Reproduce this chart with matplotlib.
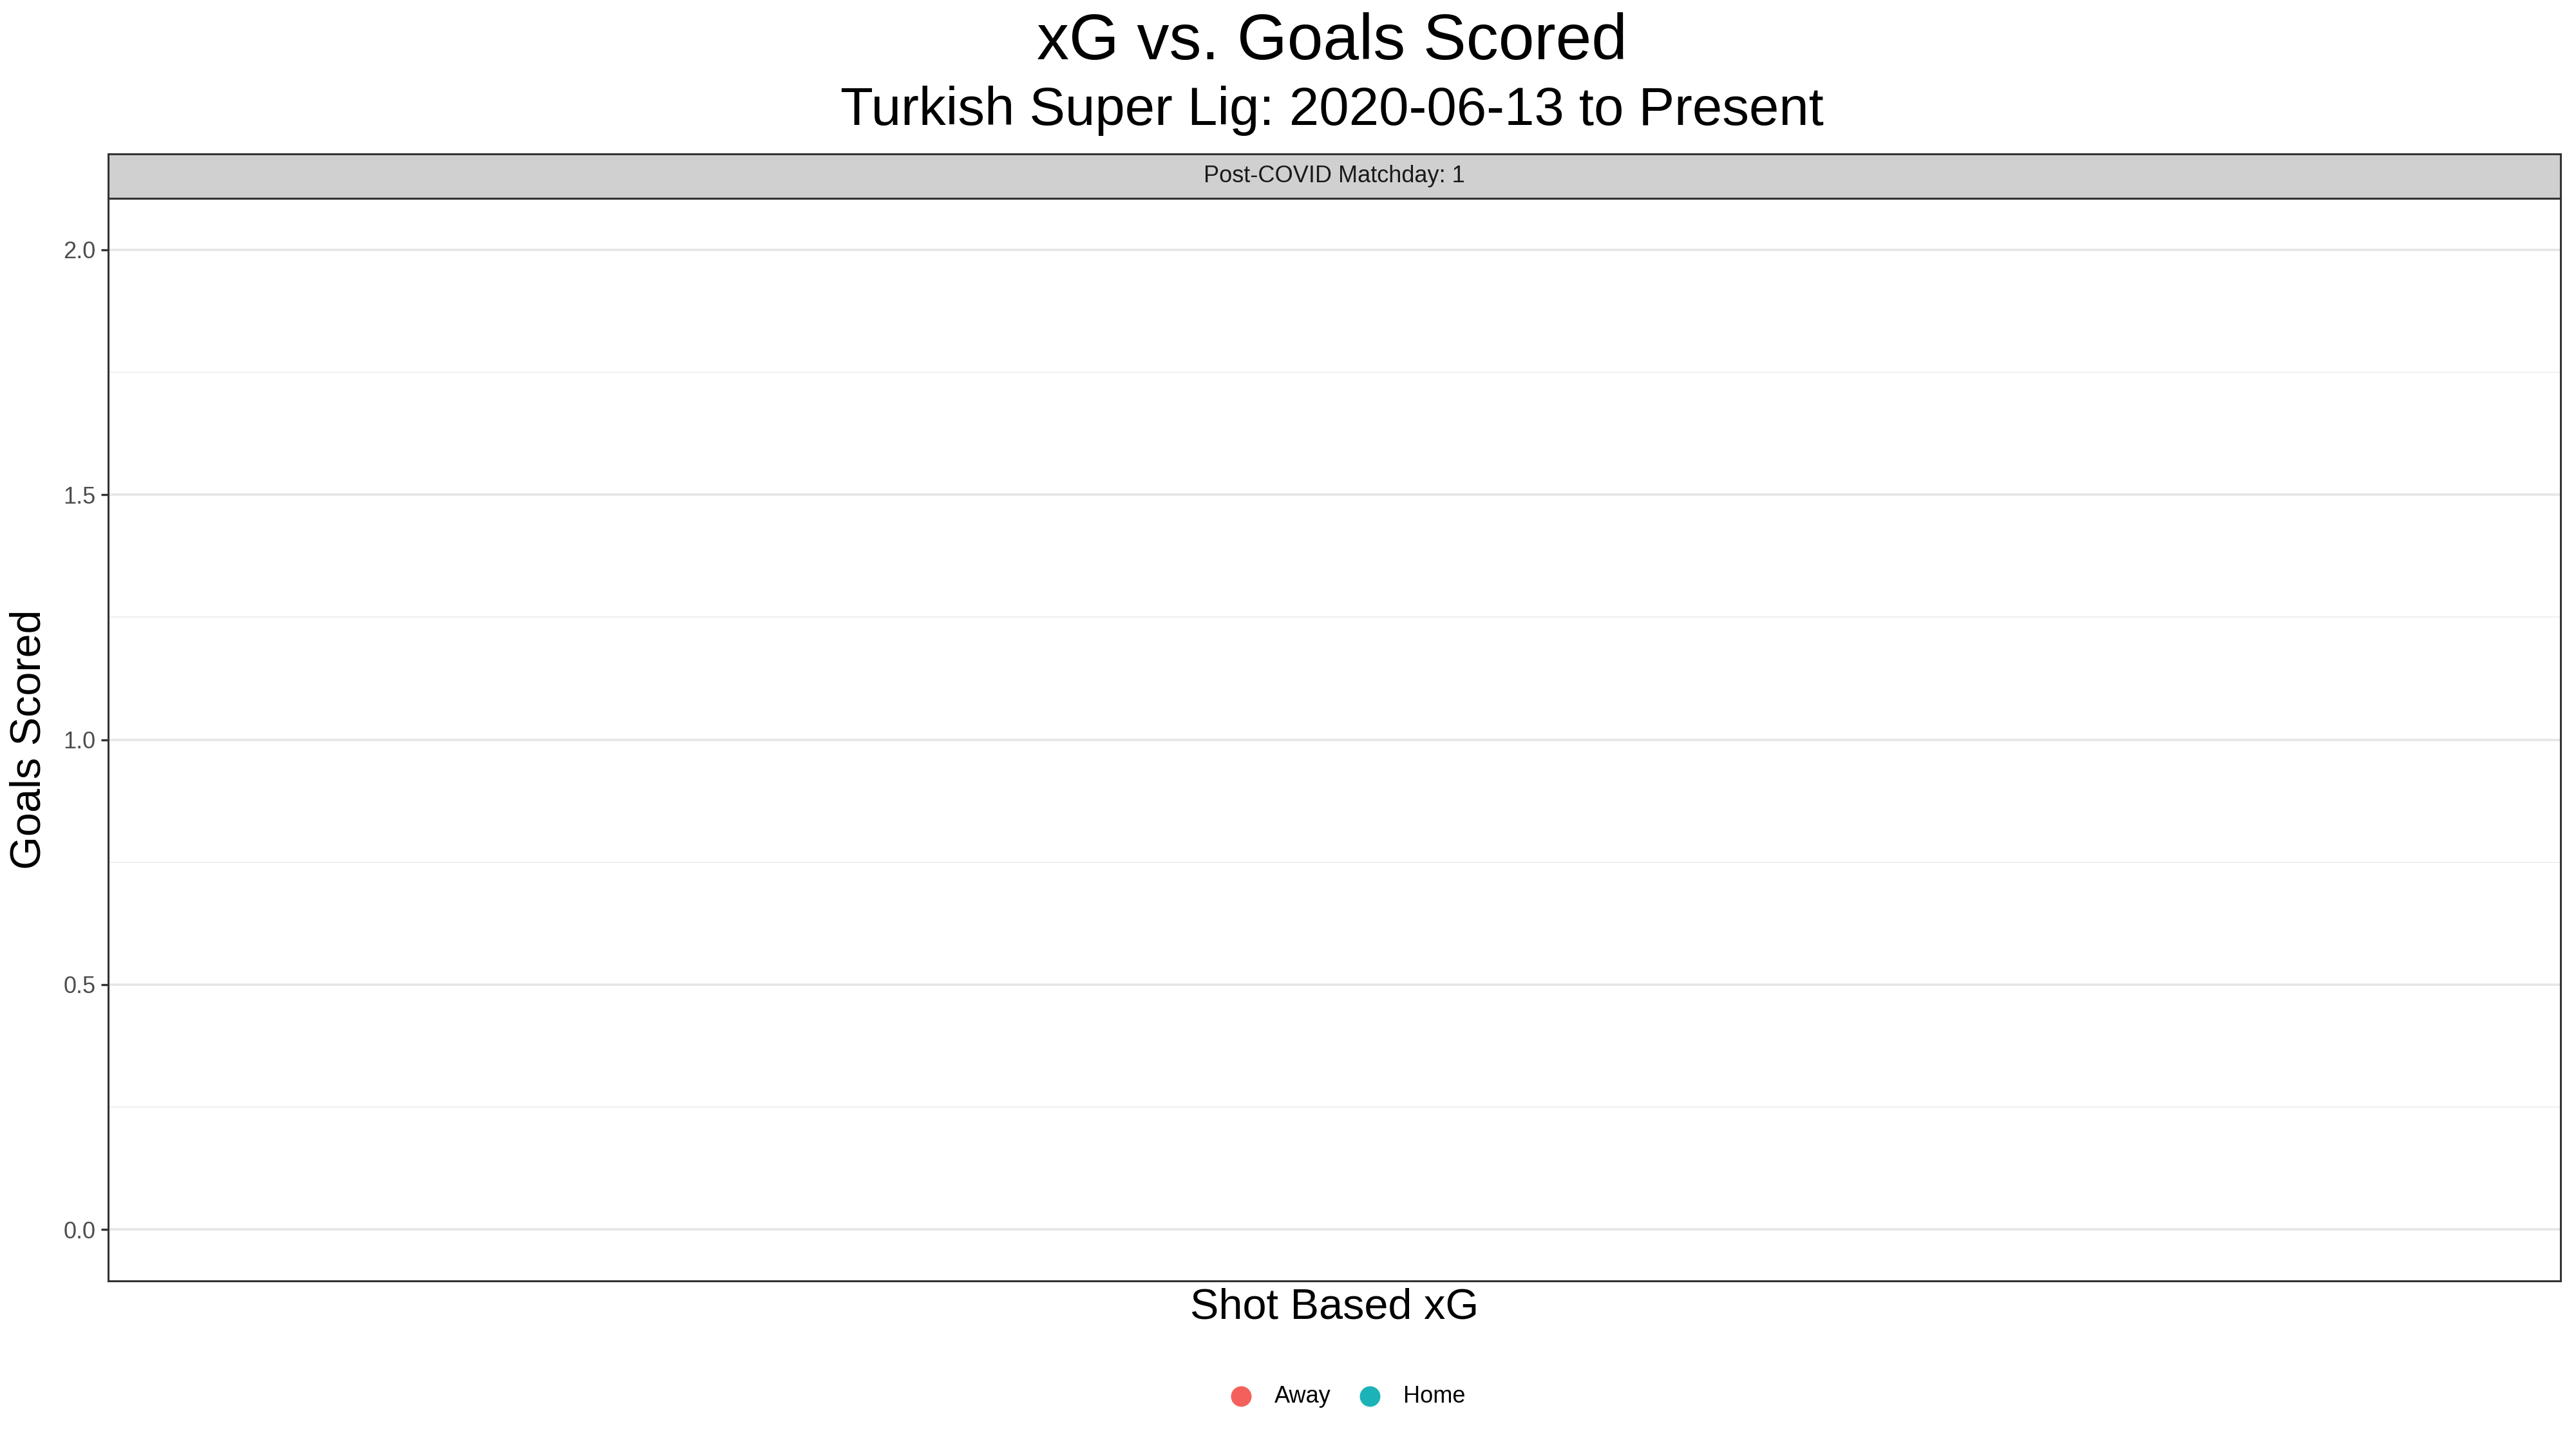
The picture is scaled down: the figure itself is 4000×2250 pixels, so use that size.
import matplotlib
matplotlib.use("Agg")
import matplotlib.pyplot as plt

plt.rcParams['font.family'] = ['Liberation Sans', 'DejaVu Sans']

# no matches in the data for this matchday -> empty series
xg_away = []
goals_away = []
xg_home = []
goals_home = []
sides = ['Away', 'Home']
side_colors = ['#F4615C', '#1BB3B8']
y_ticks = [0.0, 0.5, 1.0, 1.5, 2.0]
y_minor = [0.25, 0.75, 1.25, 1.75]
facet_label = 'Post-COVID Matchday: 1'

fig = plt.figure(figsize=(20, 11.25), dpi=200)
ax = fig.add_axes([0.042, 0.116, 0.952, 0.7471])

for gl in y_ticks:
    ax.axhline(gl, color='#E5E5E5', lw=1.3, zorder=0)
for gl in y_minor:
    ax.axhline(gl, color='#F0F0F0', lw=0.7, zorder=0)

ax.scatter(xg_away, goals_away, color=side_colors[0], s=110, label=sides[0])
ax.scatter(xg_home, goals_home, color=side_colors[1], s=110, label=sides[1])

ax.set_ylim(-0.105, 2.105)
ax.set_xlim(0, 1)
ax.set_xticks([])
ax.set_yticks(y_ticks)
ax.set_yticklabels([f'{v:.1f}' for v in y_ticks])
ax.tick_params(axis='y', length=4, width=1.2, color='#333333',
               labelsize=13, labelcolor='#4D4D4D', pad=3)
for s in ax.spines.values():
    s.set_color('#333333')
    s.set_linewidth(1.1)

# facet strip
strip = fig.add_axes([0.042, 0.8631, 0.952, 0.0307])
strip.set_facecolor('#D0D0D0')
strip.set_xticks([])
strip.set_yticks([])
for s in strip.spines.values():
    s.set_color('#333333')
    s.set_linewidth(1.1)
strip.text(0.5, 0.5, facet_label, ha='center', va='center', fontsize=13,
           color='#1A1A1A', transform=strip.transAxes)

fig.text(0.517, 1 - 66 / 2250, 'xG vs. Goals Scored', ha='center', va='center', fontsize=36)
fig.text(0.517, 1 - 172 / 2250, 'Turkish Super Lig: 2020-06-13 to Present',
         ha='center', va='center', fontsize=30)
fig.text(0.518, 1 - 2030 / 2250, 'Shot Based xG', ha='center', va='center', fontsize=24)
fig.text(46 / 4000, 1 - 1148 / 2250, 'Goals Scored', ha='center', va='center',
         rotation=90, fontsize=24)

fig.legend(loc='center', bbox_to_anchor=(0.523, 1 - 2168 / 2250), ncol=2,
           frameon=False, fontsize=13, markerscale=1.0, handlelength=1.0,
           handletextpad=0.95, columnspacing=1.15)

fig.savefig('out.png', dpi=200)
